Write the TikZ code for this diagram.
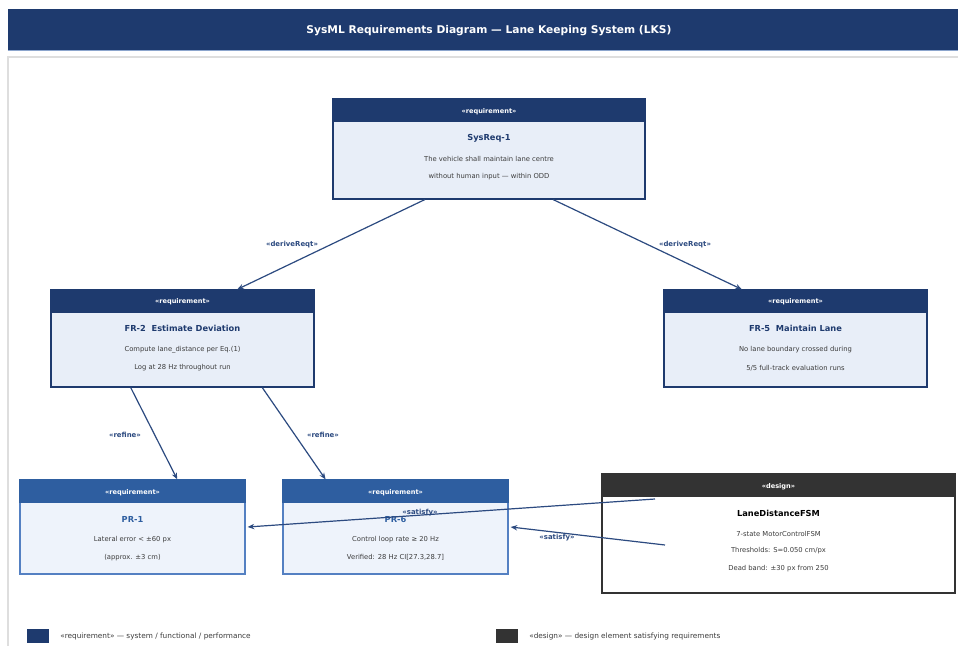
\documentclass[tikz,border=0pt]{standalone}
\usepackage{fontspec}
\setmainfont{DejaVu Sans}
\usetikzlibrary{fit,calc,arrows.meta}
\definecolor{navy}{RGB}{30,58,110}
\definecolor{midblue}{RGB}{46,94,160}
\definecolor{midborder}{RGB}{84,128,194}
\definecolor{bodyA}{RGB}{232,238,248}
\definecolor{bodyB}{RGB}{238,243,251}
\definecolor{darkgray}{RGB}{51,51,51}
\definecolor{linkc}{RGB}{44,74,128}
\definecolor{txtgray}{RGB}{60,60,60}
\definecolor{framegray}{RGB}{222,222,222}
\definecolor{titleline}{RGB}{140,165,205}
\tikzset{
  boxbody/.style={inner sep=0pt, line width=0.9pt},
  stereo/.style={font=\bfseries\fontsize{4.95}{5}\selectfont, text=white, inner sep=0pt, yshift=-0.8pt},
  reqtitle/.style={font=\bfseries\fontsize{6.2}{7}\selectfont, text=navy, inner sep=0pt, yshift=-1pt},
  prtitle/.style={font=\bfseries\fontsize{6.2}{7}\selectfont, text=midblue, inner sep=0pt, yshift=-1pt},
  destitle/.style={font=\bfseries\fontsize{6.2}{7}\selectfont, text=black, inner sep=0pt, yshift=-1pt},
  line/.style={font=\fontsize{5.1}{6}\selectfont, text=txtgray, inner sep=0pt, yshift=-1pt},
  link/.style={draw=linkc, line width=0.9pt, -{Stealth[length=5pt,width=4pt]}},
  linklabel/.style={font=\bfseries\fontsize{5.2}{6}\selectfont, text=linkc, inner sep=0pt, yshift=-0.6pt},
  legendtext/.style={font=\fontsize{5.5}{6}\selectfont, text=txtgray, inner sep=0pt, anchor=west},
}
\begin{document}
\begin{tikzpicture}[x=0.75pt,y=-0.75pt]
\useasboundingbox (0,0) rectangle (958,646);
\fill[white] (0,0) rectangle (958,646);
% title bar
\node[fit={(8,9)(960,50)}, inner sep=0pt, fill=navy] (titlebar) {};
\draw[titleline, line width=0.8pt] (titlebar.south west) -- (titlebar.south east);
\node[font=\bfseries\fontsize{8}{9}\selectfont, text=white, inner sep=0pt, yshift=-0.8pt] (title) at (489,30) {SysML Requirements Diagram — Lane Keeping System (LKS)};
% frame
\node[fit={(8,57)(962,652)}, inner sep=0pt, draw=framegray, line width=1pt] (frame) {};

% SysReq-1
\node[fit={(333,99)(645,199)}, boxbody, fill=bodyA, draw=navy] (sys) {};
\fill[navy] (sys.north west) rectangle ($(sys.north east)+(0,24)$);
\node[stereo] (syss) at ($(sys.north)+(0,12)$) {«requirement»};
\node[reqtitle] (syst) at ($(sys.north)+(0,39)$) {SysReq-1};
\node[line] (sysl1) at ($(sys.north)+(0,59)$) {The vehicle shall maintain lane centre};
\node[line] (sysl2) at ($(sys.north)+(0,77)$) {without human input — within ODD};

% FR-2
\node[fit={(51,290)(314,387)}, boxbody, fill=bodyA, draw=navy] (fr2) {};
\fill[navy] (fr2.north west) rectangle ($(fr2.north east)+(0,23.5)$);
\node[stereo] (fr2s) at ($(fr2.north)+(0,11.5)$) {«requirement»};
\node[reqtitle] (fr2t) at ($(fr2.north)+(0,38)$) {FR-2\ \ Estimate Deviation};
\node[line] (fr2l1) at ($(fr2.north)+(0,59)$) {Compute lane\_distance per Eq.(1)};
\node[line] (fr2l2) at ($(fr2.north)+(0,77)$) {Log at 28 Hz throughout run};

% FR-5
\node[fit={(664,290)(927,387)}, boxbody, fill=bodyA, draw=navy] (fr5) {};
\fill[navy] (fr5.north west) rectangle ($(fr5.north east)+(0,23.5)$);
\node[stereo] (fr5s) at ($(fr5.north)+(0,11.5)$) {«requirement»};
\node[reqtitle] (fr5t) at ($(fr5.north)+(0,38)$) {FR-5\ \ Maintain Lane};
\node[line] (fr5l1) at ($(fr5.north)+(0,59)$) {No lane boundary crossed during};
\node[line] (fr5l2) at ($(fr5.north)+(0,77)$) {5/5 full-track evaluation runs};

% PR-1
\node[fit={(20,480)(245,574)}, boxbody, fill=bodyB, draw=midborder] (pr1) {};
\fill[midblue] (pr1.north west) rectangle ($(pr1.north east)+(0,24)$);
\node[stereo] (pr1s) at ($(pr1.north)+(0,12)$) {«requirement»};
\node[prtitle] (pr1t) at ($(pr1.north)+(0,39)$) {PR-1};
\node[line] (pr1l1) at ($(pr1.north)+(0,59)$) {Lateral error < ±60 px};
\node[line] (pr1l2) at ($(pr1.north)+(0,77)$) {(approx. ±3 cm)};

% PR-6
\node[fit={(283,480)(508,574)}, boxbody, fill=bodyB, draw=midborder] (pr6) {};
\fill[midblue] (pr6.north west) rectangle ($(pr6.north east)+(0,24)$);
\node[stereo] (pr6s) at ($(pr6.north)+(0,12)$) {«requirement»};
\node[prtitle] (pr6t) at ($(pr6.north)+(0,39)$) {PR-6};
\node[line] (pr6l1) at ($(pr6.north)+(0,59)$) {Control loop rate ≥ 20 Hz};
\node[line] (pr6l2) at ($(pr6.north)+(0,77)$) {Verified: 28 Hz CI[27.3,28.7]};

% Design
\node[fit={(602,474)(955,593)}, boxbody, fill=white, draw=darkgray] (fsm) {};
\fill[darkgray] (fsm.north west) rectangle ($(fsm.north east)+(0,23.5)$);
\node[stereo] (fsms) at ($(fsm.north)+(0,12)$) {«design»};
\node[destitle] (fsmt) at ($(fsm.north)+(0,39)$) {LaneDistanceFSM};
\node[line] (fsml1) at ($(fsm.north)+(0,59)$) {7-state MotorControlFSM};
\node[line] (fsml2) at ($(fsm.north)+(0,76)$) {Thresholds: S=0.050 cm/px};
\node[line] (fsml3) at ($(fsm.north)+(0,94)$) {Dead band: ±30 px from 250};

% connectors
\draw[link] ($(sys.south west)!0.295!(sys.south east)$) -- ($(fr2.north west)!0.707!(fr2.north east)$);
\draw[link] ($(sys.south west)!0.705!(sys.south east)$) -- ($(fr5.north west)!0.297!(fr5.north east)$);
\draw[link] ($(fr2.south west)!0.304!(fr2.south east)$) -- ($(pr1.north west)!0.698!(pr1.north east)$);
\draw[link] ($(fr2.south west)!0.802!(fr2.south east)$) -- ($(pr6.north west)!0.191!(pr6.north east)$);
\coordinate (sat1) at (655,499);
\coordinate (sat2) at (665,545);
\draw[link] (sat1) -- ($(pr1.east)+(2,0)$);
\draw[link] (sat2) -- ($(pr6.east)+(2,0)$);

% labels
\node[linklabel] (l1) at (292,244) {«deriveReqt»};
\node[linklabel] (l2) at (685,244) {«deriveReqt»};
\node[linklabel] (l3) at (125,434) {«refine»};
\node[linklabel] (l4) at (323,434) {«refine»};
\node[linklabel] (l5) at (420,512) {«satisfy»};
\node[linklabel] (l6) at (557,537) {«satisfy»};

% legend
\node[fit={(27,629)(49,643)}, inner sep=0pt, fill=navy] (leg1) {};
\node[legendtext] (leg1t) at (60,636) {«requirement» — system / functional / performance};
\node[fit={(496,629)(518,643)}, inner sep=0pt, fill=darkgray] (leg2) {};
\node[legendtext] (leg2t) at (529,636) {«design» — design element satisfying requirements};
\end{tikzpicture}
\end{document}
